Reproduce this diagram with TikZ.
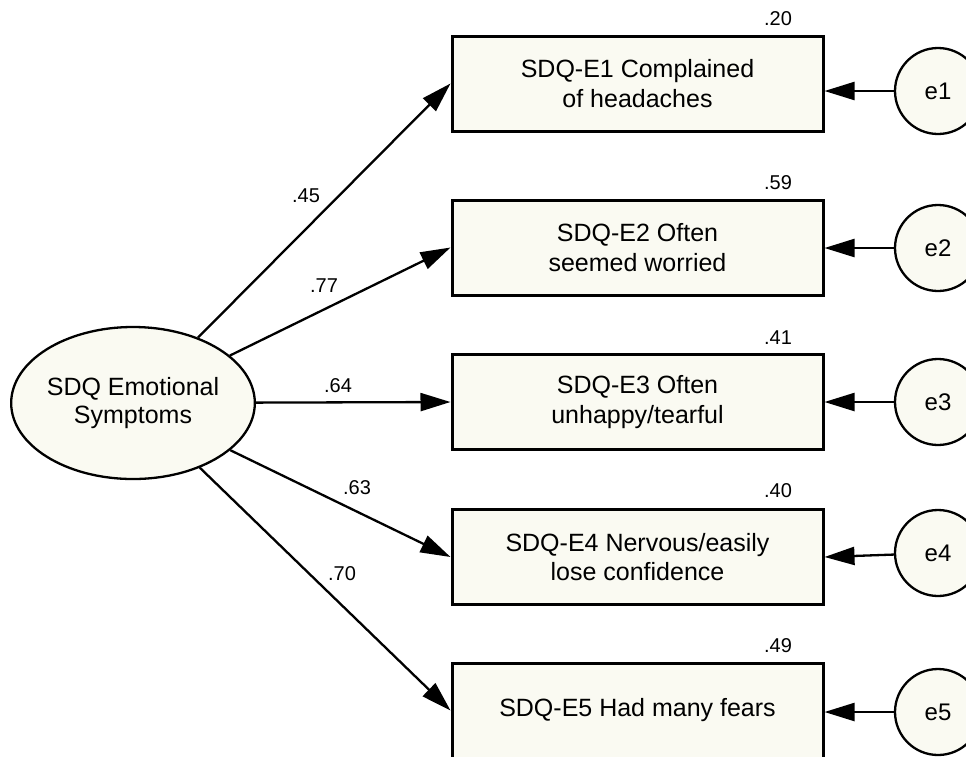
\documentclass[tikz,border=0pt]{standalone}
\usepackage{fontspec}
\setmainfont{Liberation Sans}
\usetikzlibrary{arrows.meta,shapes.geometric}
\definecolor{cream}{RGB}{250,250,242}
\tikzset{
  latent/.style={ellipse, draw, line width=2.3pt, fill=cream, minimum width=242pt,
    minimum height=152pt, inner sep=0pt, align=center, font=\fontsize{25}{28}\selectfont},
  observed/.style={rectangle, draw, line width=3pt, fill=cream, minimum width=371pt,
    minimum height=95pt, inner sep=0pt, align=center, font=\fontsize{25}{29.5}\selectfont},
  errterm/.style={circle, draw, line width=2.3pt, fill=cream, minimum size=86pt,
    inner sep=0pt, font=\fontsize{24}{28}\selectfont},
  regpath/.style={draw, line width=2.3pt, -{Triangle[length=30pt,width=18pt]}},
  coef/.style={font=\fontsize{20}{24}\selectfont, inner sep=0pt},
}
\begin{document}
\begin{tikzpicture}[x=1pt, y=-1pt]
\clip (0,0) rectangle (966,756);
\fill[white] (0,0) rectangle (966,756);

% latent factor
\node[latent] (f) at (133,403) {SDQ Emotional\\Symptoms};

% indicators
\node[observed] (b1) at (637.5,83.5)  {SDQ-E1 Complained\\of headaches};
\node[observed] (b2) at (637.5,247.5) {SDQ-E2 Often\\seemed worried};
\node[observed] (b3) at (637.5,402)   {SDQ-E3 Often\\unhappy/tearful};
\node[observed] (b4) at (637.5,557)   {SDQ-E4 Nervous/easily\\lose confidence};
\node[observed] (b5) at (637.5,710.5) {SDQ-E5 Had many fears};

% error terms
\node[errterm] (e1) at (938,91)  {e1};
\node[errterm] (e2) at (938,248) {e2};
\node[errterm] (e3) at (938,402) {e3};
\node[errterm] (e4) at (938,553) {e4};
\node[errterm] (e5) at (938,712) {e5};

% loadings
\draw[regpath] (f) -- (b1.west);
\draw[regpath] (f) -- (b2.west);
\draw[regpath] (f) -- (b3.west);
\draw[regpath] (f) -- (b4.west);
\draw[regpath] (f) -- (b5.west);

% residual paths
\draw[regpath] (e1) -- (e1 -| b1.east);
\draw[regpath] (e2) -- (e2 -| b2.east);
\draw[regpath] (e3) -- (e3 -| b3.east);
\draw[regpath] (e4) -- (b4.east);
\draw[regpath] (e5) -- (e5 -| b5.east);

% standardized loadings
\node[coef] (l1) at (306,196) {.45};
\node[coef] (l2) at (324,286) {.77};
\node[coef] (l3) at (338,386) {.64};
\node[coef] (l4) at (357,488) {.63};
\node[coef] (l5) at (342,574) {.70};

% squared multiple correlations
\node[coef] (r1) at (778,19)  {.20};
\node[coef] (r2) at (778,183) {.59};
\node[coef] (r3) at (778,338) {.41};
\node[coef] (r4) at (778,491) {.40};
\node[coef] (r5) at (778,646) {.49};
\end{tikzpicture}
\end{document}
